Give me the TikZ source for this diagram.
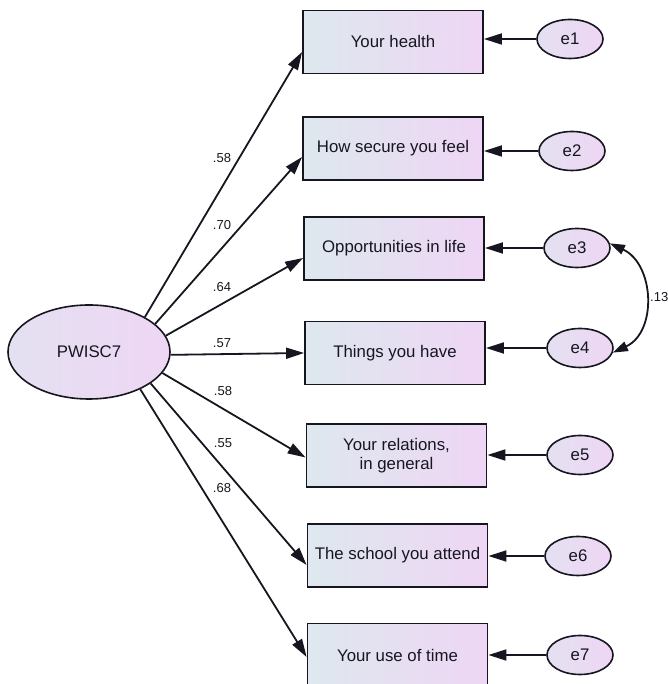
\documentclass[tikz,border=0pt]{standalone}
\usepackage{fontspec}
\setmainfont{Liberation Sans}
\usetikzlibrary{arrows.meta,shapes.geometric,calc}
\definecolor{fillL}{RGB}{222,232,238}
\definecolor{fillR}{RGB}{238,214,244}
\definecolor{ink}{RGB}{22,22,32}
\begin{document}
\begin{tikzpicture}[x=1pt,y=1pt,
  obs/.style={draw=ink, line width=1.8pt, minimum width=180pt, minimum height=63pt,
    inner sep=0pt, left color=fillL, right color=fillR, text=ink, align=center,
    font=\fontsize{16.8}{19.5}\selectfont},
  latent/.style={ellipse, draw=ink, line width=1.6pt, inner sep=0pt,
    left color=fillL!60!fillR, right color=fillR, text=ink,
    font=\fontsize{16.8}{19.5}\selectfont},
  err/.style={latent, minimum width=66pt, minimum height=39pt},
  reg/.style={line width=1.8pt, draw=ink, -{Triangle[length=18pt,width=11pt]}},
  lbl/.style={text=ink, inner sep=0pt, font=\fontsize{13}{15}\selectfont}]
\useasboundingbox (0,0) rectangle (667,684);

% latent factor
\node[latent, minimum width=162pt, minimum height=94pt] (pw) at (89,332) {PWISC7};

% observed indicators
\node[obs] (b1) at (393,642)   {Your health};
\node[obs] (b2) at (393,535.5) {How secure you feel};
\node[obs] (b3) at (394,435.5) {Opportunities in life};
\node[obs] (b4) at (395,331)   {Things you have};
\node[obs] (b5) at (396.5,228.5) {Your relations,\\in general};
\node[obs] (b6) at (397.5,128.5) {The school you attend};
\node[obs] (b7) at (397.5,29)  {Your use of time};

% error terms
\node[err] (e1) at (570,645) {e1};
\node[err] (e2) at (572,533) {e2};
\node[err] (e3) at (577,436) {e3};
\node[err] (e4) at (580,336) {e4};
\node[err] (e5) at (580,229) {e5};
\node[err] (e6) at (578,128) {e6};
\node[err] (e7) at (580,29)  {e7};

% loadings
\draw[reg] (pw.32)   -- ([yshift=-10pt]b1.west);
\draw[reg] (pw.23)   -- ([yshift=-8.5pt]b2.west);
\draw[reg] (pw.12.3) -- ([yshift=-9.5pt]b3.west);
\draw[reg] (pw.-2.9) -- ([yshift=0pt]b4.west);
\draw[reg] (pw.-16.1) -- ([yshift=-2pt]b5.west);
\draw[reg] (pw.-27.9) -- ([yshift=-9.5pt]b6.west);
\draw[reg] (pw.-36.2) -- ([yshift=-2pt]b7.west);

% error paths
\foreach \i in {1,...,7} {
  \draw[reg] (e\i.west) -- (b\i.east |- e\i.west);
}

% covariance
\draw[line width=1.8pt, draw=ink, {Triangle[length=15pt,width=10pt]}-{Triangle[length=15pt,width=10pt]}]
  (e3.8) to[out=-25,in=25,looseness=1.15] (e4.-8);

% labels
\node[lbl] (l1) at (222,526) {.58};
\node[lbl] (l2) at (222,459) {.70};
\node[lbl] (l3) at (222,397) {.64};
\node[lbl] (l4) at (222,341) {.57};
\node[lbl] (l5) at (223,293) {.58};
\node[lbl] (l6) at (223,241) {.55};
\node[lbl] (l7) at (222,196) {.68};
\node[lbl, anchor=west] (l8) at (650,387) {.13};
\end{tikzpicture}
\end{document}
